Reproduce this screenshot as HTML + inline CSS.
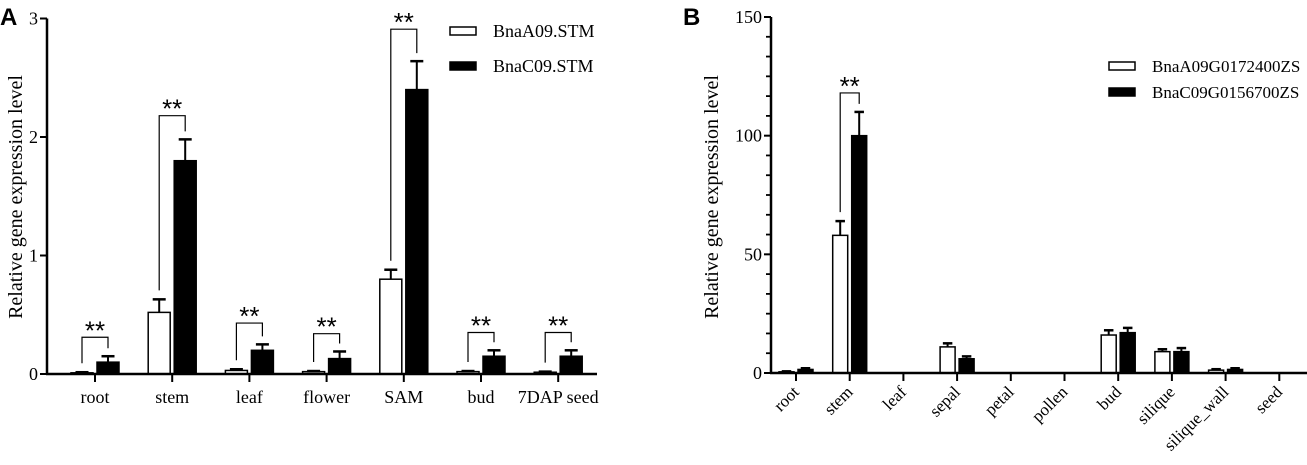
<!DOCTYPE html>
<html><head><meta charset="utf-8"><style>
body{margin:0;background:#fff}
svg{display:block;font-family:"Liberation Serif",serif}
</style></head><body>
<svg id="c" width="1307" height="465" viewBox="0 0 1307 465" xmlns="http://www.w3.org/2000/svg"></svg>
<script>
const aCats=["root","stem","leaf","flower","SAM","bud","7DAP seed"];
const aWhite=[0.01,0.52,0.03,0.02,0.80,0.02,0.015];
const aWhiteErr=[0.005,0.11,0.01,0.005,0.08,0.005,0.005];
const aBlack=[0.10,1.80,0.20,0.13,2.40,0.15,0.15];
const aBlackErr=[0.05,0.18,0.05,0.06,0.24,0.05,0.05];
const aSig=[0.31,2.18,0.43,0.34,2.91,0.35,0.35];
const aTicks=[0,1,2,3];
const aLegend=["BnaA09.STM","BnaC09.STM"];

const bCats=["root","stem","leaf","sepal","petal","pollen","bud","silique","silique_wall","seed"];
const bWhite=[0.5,58,0,11,0,0,16,9,1.2,0];
const bWhiteErr=[0.2,6,0,1.5,0,0,2,1,0.4,0];
const bBlack=[1.5,100,0,6,0,0,17,9,1.5,0];
const bBlackErr=[0.5,10,0,1,0,0,2,1.5,0.5,0];
const bSig=[null,118,null,null,null,null,null,null,null,null];
const bTicks=[0,50,100,150];
const bLegend=["BnaA09G0172400ZS","BnaC09G0156700ZS"];

const NS="http://www.w3.org/2000/svg";
const svg=document.getElementById('c');
function mk(tag,attrs,parent,text){const e=document.createElementNS(NS,tag);for(const k in attrs)e.setAttribute(k,attrs[k]);if(text!==undefined)e.textContent=text;(parent||svg).appendChild(e);return e;}

function panel(o){
  const g=mk('g',{});
  
  
  const y=v=>o.y0-(v/o.max)*(o.y0-o.yTop);
  const cx=i=>o.c0+i*o.step;
  const L=mk('text',{x:o.letterX,y:25,'font-family':'Liberation Sans,sans-serif','font-weight':'bold','font-size':24},g,o.letter);
  
  
  const ya=mk('line',{x1:o.ax,y1:o.yTop,x2:o.ax,y2:o.y0+1,stroke:'#000','stroke-width':2.5},g);
  
  
  o.ticks.forEach(t=>{
    mk('line',{x1:o.ax-7,x2:o.ax,y1:y(t),y2:y(t),stroke:'#000','stroke-width':2},g);
    const tl=mk('text',{x:o.ax-9,y:y(t)+6,'text-anchor':'end','font-size':18},g,String(t));
    
    
  });
  if(o.minor){for(let k=0;k<o.ticks.length-1;k++){const a=o.ticks[k],b=o.ticks[k+1];for(let m=1;m<o.minor;m++){const v=a+(b-a)*m/o.minor;mk('line',{x1:o.ax-5,x2:o.ax,y1:y(v),y2:y(v),stroke:'#000','stroke-width':1.8},g);}}}
  const yt=mk('text',{transform:`translate(${o.ylx},${o.yly}) rotate(-90)`,'text-anchor':'middle','font-size':20},g,'Relative gene expression level');
  
  
  o.cats.forEach((c,i)=>{
    const x=cx(i);
    [[o.white,o.wErr,'#fff',x-o.gap-o.bw,'white'],[o.black,o.bErr,'#000',x+o.gap,'black']].forEach(([vals,errs,fill,bx,s])=>{
      const v=vals[i];
      if(v>0){
        const r=mk('rect',{x:bx,y:y(v),width:o.bw,height:o.y0-y(v),fill:fill,stroke:'#000','stroke-width':1.5},g);
        
        
        if(errs[i]>0){const ex=bx+o.bw/2,et=y(v+errs[i]);
          mk('line',{x1:ex,x2:ex,y1:y(v),y2:et,stroke:'#000','stroke-width':2},g);
          mk('line',{x1:ex-o.bw/4-1,x2:ex+o.bw/4+1,y1:et,y2:et,stroke:'#000','stroke-width':2.5},g);}
      }
    });
    mk('line',{x1:x,x2:x,y1:o.y0,y2:o.y0+8,stroke:'#000','stroke-width':2},g);
    let xl;
    if(o.rot){xl=mk('text',{transform:`translate(${x+4},${o.y0+20}) rotate(-45)`,'text-anchor':'end','font-size':17},g,c);}
    else{xl=mk('text',{x:x,y:o.y0+29,'text-anchor':'middle','font-size':18},g,c);}
    
    
    if(o.sig[i]!=null){
      const top=y(o.sig[i]);const lx=x-o.gap-o.bw/2,rx=x+o.gap+o.bw/2;
      const wt=y(o.white[i]+o.wErr[i])-9,bt=y(o.black[i]+o.bErr[i])-8;
      const p=mk('path',{d:`M${lx},${wt}V${top}H${rx}V${bt}`,fill:'none',stroke:'#000','stroke-width':1.2},g);
      
      
      const st=mk('text',{x:(lx+rx)/2,y:top+2,'text-anchor':'middle','font-family':'Liberation Sans,sans-serif','font-size':26},g,'**');
      
      
    }
  });
  const xa=mk('line',{x1:o.ax-1,y1:o.y0,x2:o.axEnd,y2:o.y0,stroke:'#000','stroke-width':2.5},g);
  
  
  o.legend.forEach((t,k)=>{
    const ly=o.legY+k*o.legStep;
    const lr=mk('rect',{x:o.legX,y:ly,width:26,height:8,fill:k?'#000':'#fff',stroke:'#000','stroke-width':1.5},g);
    
    
    const lt=mk('text',{x:o.legX+43,y:ly+10,'font-size':o.legFont},g,t);
    
    
  });
}
panel({name:'panel-a',letter:'A',letterX:0,ax:47,axEnd:597,y0:374,yTop:18.5,max:3,ticks:aTicks,minor:0,
  c0:95,step:77.2,bw:22,gap:2,cats:aCats,white:aWhite,wErr:aWhiteErr,black:aBlack,bErr:aBlackErr,sig:aSig,
  ylx:22,yly:197,rot:false,legend:aLegend,legX:450,legY:27,legStep:35,legFont:18});
panel({name:'panel-b',letter:'B',letterX:683,ax:771,axEnd:1307,y0:373,yTop:17,max:150,ticks:bTicks,minor:6,
  c0:796,step:53.7,bw:15,gap:2,cats:bCats,white:bWhite,wErr:bWhiteErr,black:bBlack,bErr:bBlackErr,sig:bSig,
  ylx:718,yly:197,rot:true,legend:bLegend,legX:1109,legY:62,legStep:26,legFont:17});
</script>
</body></html>
